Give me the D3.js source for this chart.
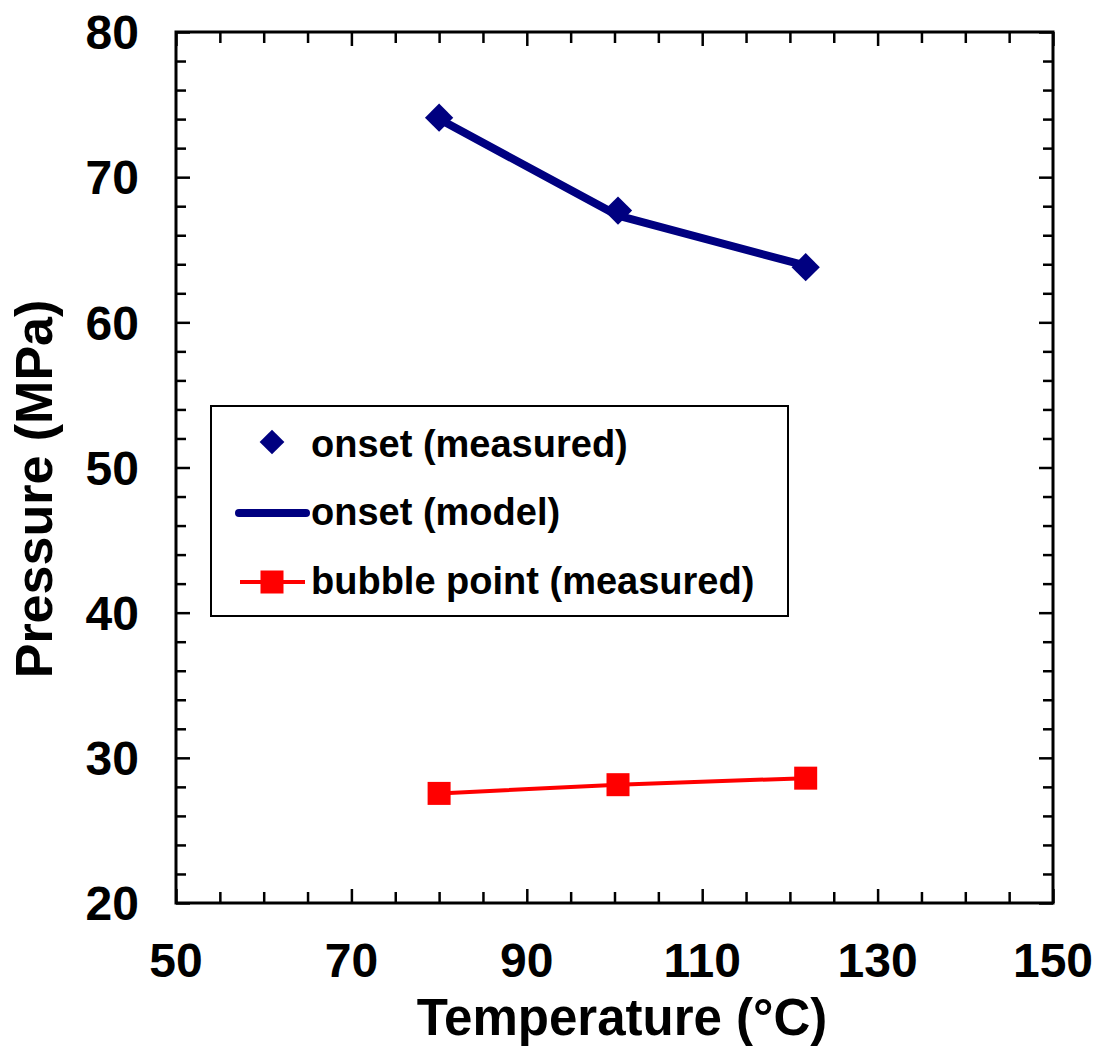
<!DOCTYPE html>
<html>
<head>
<meta charset="utf-8">
<script src="https://cdn.jsdelivr.net/npm/d3@7"></script>
<style>
  html, body { margin: 0; padding: 0; background: #fff; }
  svg { display: block; font-family: Arial, "Liberation Sans", sans-serif; font-weight: bold; }
</style>
</head>
<body>
<svg id="chart" width="1097" height="1046"></svg>
<script>
// Temperatures (°C) at which onset and bubble point were measured
const temps = [80, 100.4, 121.8];
// Onset pressure, measured (MPa)
const onsetMeasured = [74.1, 67.7, 63.8];
// Onset pressure, model (MPa)
const onsetModel = [74.0, 67.35, 63.9];
// Bubble point pressure, measured (MPa)
const bubbleMeasured = [27.55, 28.15, 28.6];

// Axis tick labels
const xTickLabels = [50, 70, 90, 110, 130, 150];
const yTickLabels = [20, 30, 40, 50, 60, 70, 80];

const legendLabels = ["onset (measured)", "onset (model)", "bubble point (measured)"];

const navy = "#000080";
const red = "#ff0000";

const svg = d3.select("#chart");
const plotLeft = 176, plotRight = 1053, plotTop = 32, plotBottom = 903;

const x = d3.scaleLinear().domain([50, 150]).range([plotLeft, plotRight]);
const y = d3.scaleLinear().domain([20, 80]).range([plotBottom, plotTop]);

// Tick marks on all four sides, pointing inward
const xMinor = d3.range(50, 150.01, 5).filter(v => !xTickLabels.includes(v));
const yMinor = d3.range(20, 80.01, 2).filter(v => !yTickLabels.includes(v));

function tickAxis(axisFn, scale, values, len, transform) {
  const g = svg.append("g")
    .attr("transform", transform)
    .call(axisFn(scale).tickValues(values).tickSize(len).tickFormat(""));
  g.select(".domain").remove();
  g.selectAll("line").attr("stroke", "#000").attr("stroke-width", 2.5);
  return g;
}
// bottom & top
tickAxis(d3.axisTop, x, xMinor, 11, `translate(0,${plotBottom})`);
tickAxis(d3.axisTop, x, xTickLabels, 14, `translate(0,${plotBottom})`);
tickAxis(d3.axisBottom, x, xMinor, 11, `translate(0,${plotTop})`);
tickAxis(d3.axisBottom, x, xTickLabels, 14, `translate(0,${plotTop})`);
// left & right
tickAxis(d3.axisRight, y, yMinor, 10, `translate(${plotLeft},0)`);
tickAxis(d3.axisRight, y, yTickLabels, 14, `translate(${plotLeft},0)`);
tickAxis(d3.axisLeft, y, yMinor, 10, `translate(${plotRight},0)`);
tickAxis(d3.axisLeft, y, yTickLabels, 14, `translate(${plotRight},0)`);

// Plot frame
svg.append("rect")
  .attr("x", plotLeft).attr("y", plotTop)
  .attr("width", plotRight - plotLeft).attr("height", plotBottom - plotTop)
  .attr("fill", "none").attr("stroke", "#000").attr("stroke-width", 3);

// Tick labels
const tickFont = 48;
svg.append("g").selectAll("text").data(xTickLabels).join("text")
  .attr("x", d => x(d)).attr("y", 977)
  .attr("text-anchor", "middle")
  .attr("font-size", tickFont)
  .text(d => d);

svg.append("g").selectAll("text").data(yTickLabels).join("text")
  .attr("x", 139).attr("y", d => y(d) + tickFont * 0.358)
  .attr("text-anchor", "end")
  .attr("font-size", tickFont)
  .text(d => d);

// Axis titles
svg.append("text")
  .attr("x", 622).attr("y", 1035)
  .attr("text-anchor", "middle")
  .attr("font-size", 51)
  .text("Temperature (°C)");

svg.append("text")
  .attr("transform", "translate(52,489) rotate(-90)")
  .attr("text-anchor", "middle")
  .attr("font-size", 52)
  .text("Pressure (MPa)");

// Data series
const onsetPts = temps.map((t, i) => [t, onsetMeasured[i]]);
const modelPts = temps.map((t, i) => [t, onsetModel[i]]);
const bubblePts = temps.map((t, i) => [t, bubbleMeasured[i]]);

const line = d3.line().x(d => x(d[0])).y(d => y(d[1]));

const diamond = d3.symbol().type(d3.symbolSquare).size(20 * 20);

svg.append("g").selectAll("path").data(onsetPts).join("path")
  .attr("d", diamond)
  .attr("transform", d => `translate(${x(d[0])},${y(d[1])}) rotate(45)`)
  .attr("fill", navy);

svg.append("path").datum(modelPts)
  .attr("d", line)
  .attr("fill", "none").attr("stroke", navy)
  .attr("stroke-width", 8).attr("stroke-linejoin", "round");

svg.append("path").datum(bubblePts)
  .attr("d", line)
  .attr("fill", "none").attr("stroke", red).attr("stroke-width", 4);

svg.append("g").selectAll("rect").data(bubblePts).join("rect")
  .attr("x", d => x(d[0]) - 11.5).attr("y", d => y(d[1]) - 11.5)
  .attr("width", 23).attr("height", 23)
  .attr("fill", red);

// Legend
const lg = svg.append("g");
lg.append("rect")
  .attr("x", 211).attr("y", 406).attr("width", 577).attr("height", 210)
  .attr("fill", "#fff").attr("stroke", "#000").attr("stroke-width", 2);

const legendFont = 38;
const rowBase = [457, 525, 594];
lg.selectAll("text").data(legendLabels).join("text")
  .attr("x", 311).attr("y", (d, i) => rowBase[i])
  .attr("font-size", legendFont)
  .text(d => d);

lg.append("path")
  .attr("d", d3.symbol().type(d3.symbolSquare).size(17.5 * 17.5))
  .attr("transform", "translate(272,442) rotate(45)")
  .attr("fill", navy);

lg.append("line")
  .attr("x1", 239).attr("x2", 306).attr("y1", 513).attr("y2", 513)
  .attr("stroke", navy).attr("stroke-width", 8).attr("stroke-linecap", "round");

lg.append("line")
  .attr("x1", 240).attr("x2", 305).attr("y1", 582).attr("y2", 582)
  .attr("stroke", red).attr("stroke-width", 4);
lg.append("rect")
  .attr("x", 272 - 11.5).attr("y", 582 - 11.5).attr("width", 23).attr("height", 23)
  .attr("fill", red);
</script>
</body>
</html>
